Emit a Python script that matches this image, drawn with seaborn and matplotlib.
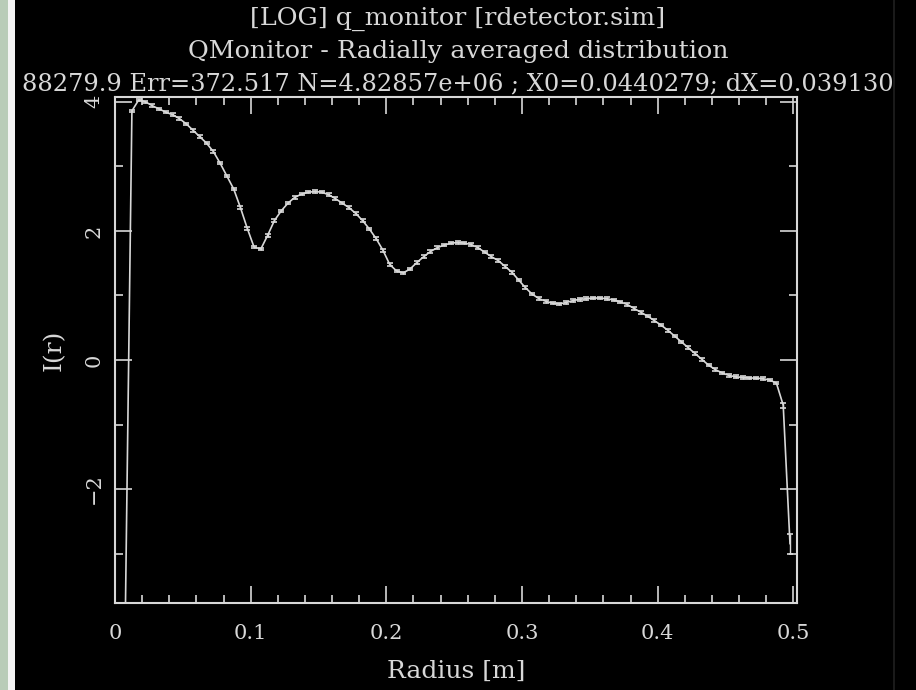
import numpy as np
import pandas as pd
import matplotlib
matplotlib.use('Agg')
import matplotlib.pyplot as plt
import seaborn as sns
from matplotlib.patches import Rectangle
from matplotlib.ticker import MultipleLocator

# ----- data -----
radius = [0.0025 + 0.005 * i for i in range(100)]
log_intensity = [
    -4.6, -4.2, 3.86, 4.03, 4.00, 3.94, 3.89, 3.84, 3.80, 3.74,
    3.66, 3.56, 3.46, 3.36, 3.23, 3.05, 2.85, 2.65, 2.36, 2.04,
    1.75, 1.72, 1.93, 2.16, 2.31, 2.43, 2.52, 2.57, 2.60, 2.61,
    2.60, 2.56, 2.50, 2.43, 2.36, 2.27, 2.16, 2.03, 1.88, 1.70,
    1.48, 1.38, 1.35, 1.41, 1.51, 1.60, 1.68, 1.74, 1.78, 1.81,
    1.82, 1.81, 1.79, 1.74, 1.67, 1.60, 1.54, 1.45, 1.36, 1.24,
    1.12, 1.02, 0.95, 0.91, 0.88, 0.87, 0.89, 0.92, 0.94, 0.95,
    0.96, 0.96, 0.95, 0.93, 0.90, 0.86, 0.80, 0.74, 0.68, 0.61,
    0.54, 0.46, 0.37, 0.28, 0.19, 0.10, 0.01, -0.08, -0.15, -0.20,
    -0.24, -0.26, -0.27, -0.28, -0.28, -0.29, -0.31, -0.36, -0.70, -2.85,
]
errors = [0.02] * 98 + [0.04, 0.15]

title_lines = [
    "[LOG] q_monitor [rdetector.sim]",
    "QMonitor - Radially averaged distribution",
    "88279.9 Err=372.517 N=4.82857e+06 ; X0=0.0440279; dX=0.039130",
]
title_sizes = [18.3, 18.3, 17.4]

df = pd.DataFrame({'r': radius, 'I': log_intensity, 'err': errors})

fg = '#d8d8d8'
sns.set_theme(style='dark')
plt.rcParams['font.family'] = ['DejaVu Serif']

fig = plt.figure(figsize=(9.16, 6.9), dpi=100, facecolor='black')
ax = fig.add_axes([0.1255, 0.126, 0.7445, 0.7334])
ax.set_facecolor('black')

sns.lineplot(data=df, x='r', y='I', ax=ax, color=fg, linewidth=1.2,
             sort=True, errorbar=None)
ax.errorbar(df['r'], df['I'], yerr=df['err'], fmt='none', ecolor=fg,
            elinewidth=1.0, capsize=2.5, capthick=1.2)

ax.set_xlim(0, 0.5026)
ax.set_ylim(-3.767, 4.075)
ax.xaxis.set_major_locator(MultipleLocator(0.1))
ax.xaxis.set_minor_locator(MultipleLocator(0.02))
ax.yaxis.set_major_locator(MultipleLocator(2))
ax.yaxis.set_minor_locator(MultipleLocator(1))
ax.xaxis.set_major_formatter(plt.FuncFormatter(lambda v, p: '0' if abs(v) < 1e-9 else f'{v:.1f}'))
ax.yaxis.set_major_formatter(plt.FuncFormatter(lambda v, p: f'{v:.0f}'.replace('-', '\u2212')))

ax.tick_params(which='both', direction='in', top=True, right=True,
               bottom=True, left=True, color=fg, labelcolor=fg,
               labelsize=15)
ax.tick_params(which='major', length=12, width=1.2)
ax.tick_params(which='minor', length=6, width=1.2)
ax.tick_params(axis='x', which='major', pad=15)
ax.tick_params(axis='y', which='major', pad=8)
for lab in ax.get_yticklabels():
    lab.set_rotation(90)
    lab.set_va('center')
for sp in ax.spines.values():
    sp.set_color(fg)
    sp.set_linewidth(1.5)
    sp.set_visible(True)
ax.grid(False)

ax.set_xlabel('Radius [m]', color=fg, fontsize=18, labelpad=12)
ax.set_ylabel('I(r)', color=fg, fontsize=18, labelpad=14)

for k, line in enumerate(title_lines):
    fig.text(0.5, 0.972 - k * 0.047, line, ha='center', va='center',
             color=fg, fontsize=title_sizes[k])

# light border strip on the left and thin frame line on the right
fig.patches.append(Rectangle((0, 0), 8 / 916, 1, transform=fig.transFigure,
                             facecolor='#b9ccb8', edgecolor='none', zorder=5))
fig.patches.append(Rectangle((8 / 916, 0), 7 / 916, 1, transform=fig.transFigure,
                             facecolor='#f4f4f4', edgecolor='none', zorder=5))
fig.patches.append(Rectangle((893 / 916, 0), 1.5 / 916, 1, transform=fig.transFigure,
                             facecolor='#1a1a1a', edgecolor='none', zorder=5))

fig.savefig('out.png', dpi=100, facecolor='black')
